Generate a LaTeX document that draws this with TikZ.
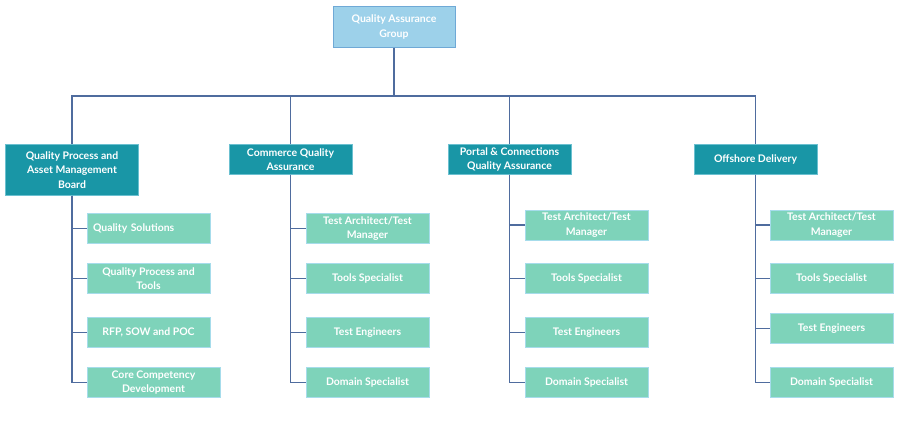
\documentclass[tikz,border=0pt]{standalone}
\usepackage{fontspec}
\setmainfont{Lato}
\usepackage{tikz}
\usetikzlibrary{positioning}

\definecolor{linkcol}{HTML}{4F6C9E}
\definecolor{headfill}{HTML}{9DD1EA}
\definecolor{headline}{HTML}{6FA9D6}
\definecolor{deptfill}{HTML}{1996A6}
\definecolor{deptline}{HTML}{6BC0D0}
\definecolor{rolefill}{HTML}{7ED3BA}
\definecolor{roleline}{HTML}{A6DCEB}

\begin{document}
\begin{tikzpicture}[
    x=1bp, y=-1bp,
    head/.style={draw=headline, fill=headfill, text=white, minimum width=122bp,
                 minimum height=41bp, align=center, inner sep=2bp,
                 font=\bfseries\fontsize{10.5}{14.5}\selectfont},
    dept/.style={draw=deptline, fill=deptfill, text=white, minimum width=123bp,
                 minimum height=30bp, align=center, inner sep=2bp,
                 font=\bfseries\fontsize{10.5}{14.5}\selectfont},
    role/.style={draw=roleline, fill=rolefill, text=white, minimum width=123bp,
                 minimum height=30bp, align=center, inner sep=2bp,
                 font=\bfseries\fontsize{10.5}{14.5}\selectfont},
    link/.style={draw=linkcol, line width=1.8bp}
]
\useasboundingbox (0,0) rectangle (900,420);
\fill[white] (0,0) rectangle (900,420);

% --- Top ---
\node[head] (qag) at (394, 27) {Quality Assurance\\Group};
\coordinate (bus) at (394, 96);

% --- Departments ---
\node[dept, minimum width=133bp, minimum height=51bp] (qpam) at (72, 170)
    {Quality Process and\\Asset Management\\Board};
\node[dept] (cqa) at (290.5, 159.5) {Commerce Quality\\Assurance};
\node[dept] (pcqa) at (509.5, 159.5) {Portal \& Connections\\Quality Assurance};
\node[dept] (off) at (755.5, 159.5) {Offshore Delivery};

% --- Quality process column ---
\node[role, text width=111bp, align=left, inner xsep=6bp] (qs) at (148.5, 228.5) {Quality Solutions};
\node[role] (qpt) at (148.5, 278.5) {Quality Process and\\Tools};
\node[role] (rfp) at (148.5, 332.5) {RFP, SOW and POC};
\node[role, minimum width=133bp] (ccd) at (153.5, 382.5) {Core Competency\\Development};

% --- Commerce column ---
\node[role] (cta) at (367.5, 228.5) {Test Architect/Test\\Manager};
\node[role] (cts) at (367.5, 278.5) {Tools Specialist};
\node[role] (cte) at (367.5, 332.5) {Test Engineers};
\node[role] (cds) at (367.5, 382.5) {Domain Specialist};

% --- Portal column ---
\node[role] (pta) at (586.5, 225) {Test Architect/Test\\Manager};
\node[role] (pts) at (586.5, 278.5) {Tools Specialist};
\node[role] (pte) at (586.5, 332.5) {Test Engineers};
\node[role] (pds) at (586.5, 382.5) {Domain Specialist};

% --- Offshore column ---
\node[role] (ota) at (831.5, 225) {Test Architect/Test\\Manager};
\node[role] (ots) at (831.5, 278.5) {Tools Specialist};
\node[role] (ote) at (831.5, 328.5) {Test Engineers};
\node[role] (ods) at (831.5, 382.5) {Domain Specialist};

% --- Links to departments ---
\draw[link] (qag.south) -- (bus);
\draw[link] (qpam.north) |- (bus);
\draw[link] (cqa.north) |- (bus);
\draw[link] (pcqa.north) |- (bus);
\draw[link] (off.north) |- (bus);

% --- Links to roles ---
\draw[link] (qpam.south) |- (qs.west);
\draw[link] (qpam.south) |- (qpt.west);
\draw[link] (qpam.south) |- (rfp.west);
\draw[link] (qpam.south) |- (ccd.west);

\draw[link] (cqa.south) |- (cta.west);
\draw[link] (cqa.south) |- (cts.west);
\draw[link] (cqa.south) |- (cte.west);
\draw[link] (cqa.south) |- (cds.west);

\draw[link] (pcqa.south) |- (pta.west);
\draw[link] (pcqa.south) |- (pts.west);
\draw[link] (pcqa.south) |- (pte.west);
\draw[link] (pcqa.south) |- (pds.west);

\draw[link] (off.south) |- (ota.west);
\draw[link] (off.south) |- (ots.west);
\draw[link] (off.south) |- (ote.west);
\draw[link] (off.south) |- (ods.west);

\end{tikzpicture}
\end{document}
